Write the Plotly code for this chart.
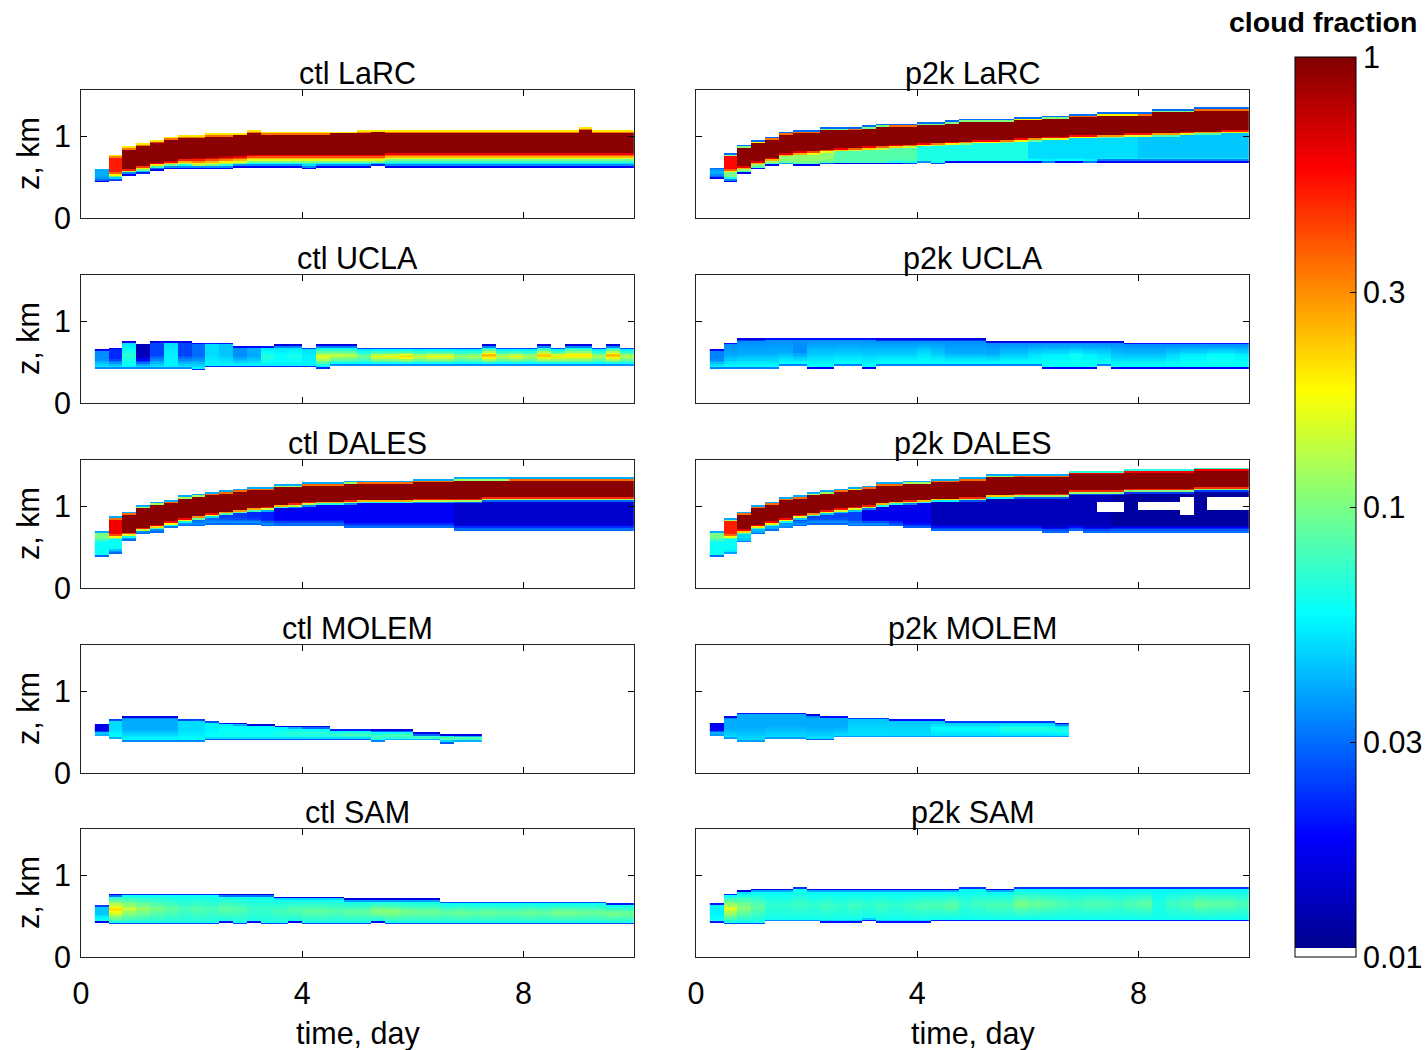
import numpy as np
import plotly.graph_objects as go

# ---------------- data ----------------
T_START = 0.25          # first time column starts at 0.25 day
T_STEP = 0.25           # column width, day
Z_STEP = 0.02           # vertical cell size, km

# ---- ctl LaRC
CTL_LARC_TOP = [0.60, 0.77, 0.87, 0.91, 0.955, 0.99, 1.01, 1.01, 1.03, 1.03,
                1.04, 1.07, 1.05, 1.05, 1.05, 1.05, 1.05, 1.06, 1.06, 1.07,
                1.08] + [1.07] * 14 + [1.11, 1.07, 1.07, 1.07]
CTL_LARC_BASE = [0.445, 0.45, 0.52, 0.535, 0.585, 0.60, 0.60, 0.60, 0.60, 0.60,
                 0.62, 0.62, 0.62, 0.62, 0.62, 0.60, 0.62, 0.62, 0.62, 0.62,
                 0.635] + [0.62] * 18
CTL_LARC_SPLIT = [0.52, 0.56, 0.60, 0.65, 0.68, 0.70, 0.73, 0.74, 0.75, 0.76,
                  0.77, 0.79, 0.79, 0.79, 0.79, 0.79, 0.79, 0.79, 0.79, 0.79,
                  0.79] + [0.81] * 18
CTL_LARC_CORE = [0.04, 0.5] + [0.95] * 37
CTL_LARC_MID = 0.1
CTL_LARC_LOW = 0.035

# ---- p2k LaRC
P2K_LARC_TOP = [0.615, 0.79, 0.89, 0.955, 1.0, 1.06, 1.08, 1.08, 1.11, 1.11,
                1.12, 1.13, 1.15, 1.16, 1.16, 1.17, 1.17, 1.19, 1.21, 1.21,
                1.21, 1.21, 1.235, 1.235, 1.25, 1.25, 1.28, 1.28, 1.295, 1.295,
                1.295, 1.30, 1.33, 1.33, 1.33, 1.36, 1.36, 1.36, 1.36]
P2K_LARC_BASE = [0.48, 0.445, 0.54, 0.60, 0.64, 0.65, 0.64, 0.64, 0.655, 0.66,
                 0.66, 0.66, 0.66, 0.66, 0.655, 0.67, 0.655, 0.68, 0.68, 0.68,
                 0.68, 0.68, 0.68, 0.68, 0.67, 0.68, 0.68, 0.67, 0.69, 0.69,
                 0.69, 0.69, 0.69, 0.69, 0.69, 0.69, 0.69, 0.69, 0.69]
P2K_LARC_SPLIT = [0.55, 0.60, 0.64, 0.70, 0.74, 0.80, 0.82, 0.83, 0.85, 0.86,
                  0.87, 0.88, 0.89, 0.90, 0.91, 0.92, 0.93, 0.94, 0.95, 0.96,
                  0.96, 0.97, 0.98, 0.99, 1.00, 1.00, 1.02, 1.02, 1.03, 1.03,
                  1.04, 1.04, 1.05, 1.05, 1.06, 1.07, 1.07, 1.08, 1.08]
P2K_LARC_CORE = [0.04, 0.55] + [0.95] * 37
P2K_LARC_MID = [0.04, 0.1] + [0.11] * 7 + [0.085] * 6 + [0.065] * 8 + [0.05] * 8 + [0.045] * 8
P2K_LARC_LOW = [0.03, 0.04] + [0.08] * 11 + [0.065] * 10 + [0.058] * 16

# ---- ctl UCLA
CTL_UCLA_TOP = [0.664, 0.684, 0.761, 0.713, 0.761, 0.761, 0.761, 0.745, 0.745, 0.745,
                0.704, 0.704, 0.704, 0.713, 0.713, 0.688, 0.713, 0.713, 0.713, 0.688,
                0.688, 0.688, 0.688, 0.688, 0.688, 0.688, 0.688, 0.688, 0.713, 0.688,
                0.688, 0.688, 0.713, 0.688, 0.713, 0.713, 0.688, 0.713, 0.688]
CTL_UCLA_BASE = [0.41] * 7 + [0.40] + [0.44] * 8 + [0.42] + [0.45] * 22
CTL_UCLA_CORE = [0.035, 0.022, 0.07, 0.013, 0.025, 0.055, 0.025, 0.03, 0.05, 0.045,
                 0.035, 0.04, 0.07, 0.06, 0.065, 0.055, 0.17, 0.15, 0.14, 0.10,
                 0.17, 0.18, 0.22, 0.15, 0.18, 0.18, 0.12, 0.13, 0.28, 0.14,
                 0.17, 0.13, 0.26, 0.20, 0.22, 0.22, 0.13, 0.28, 0.14]
CTL_UCLA_LOW = 0.055

# ---- p2k UCLA
P2K_UCLA_TOP = [0.664, 0.745, 0.79, 0.79] + [0.805] * 8 + [0.79] * 8 + [0.76] * 10 + [0.745] * 9
P2K_UCLA_BASE = ([0.41] * 5 + [0.45, 0.45, 0.42, 0.42, 0.45, 0.45, 0.42] + [0.45] * 12
                 + [0.42] * 4 + [0.45] + [0.42] * 10)
P2K_UCLA_CORE = [0.033, 0.04, 0.04, 0.04, 0.04, 0.04, 0.035, 0.045, 0.045, 0.045,
                 0.045, 0.045, 0.045, 0.045, 0.045, 0.05, 0.045, 0.04, 0.04, 0.04,
                 0.04, 0.045, 0.045, 0.05, 0.055, 0.055, 0.06, 0.055, 0.05, 0.045,
                 0.045, 0.045, 0.045, 0.05, 0.055, 0.055, 0.06, 0.06, 0.055]
P2K_UCLA_LOW = 0.06

# ---- ctl DALES
CTL_DALES_TOP = [0.70, 0.88, 0.94, 1.01, 1.05, 1.08, 1.13, 1.15, 1.18, 1.20,
                 1.22, 1.24, 1.24, 1.27, 1.27, 1.30, 1.30, 1.30, 1.31, 1.32,
                 1.32, 1.32, 1.32, 1.34, 1.34, 1.34, 1.35, 1.35, 1.35, 1.35] + [1.36] * 9
CTL_DALES_BASE = [0.38, 0.41, 0.58, 0.66, 0.68, 0.73, 0.76, 0.76, 0.78, 0.78,
                  0.78, 0.78, 0.76, 0.76, 0.76, 0.76, 0.76, 0.76, 0.73, 0.73,
                  0.73, 0.73, 0.73, 0.73, 0.73, 0.73] + [0.70] * 13
CTL_DALES_SPLIT = [0.62, 0.66, 0.69, 0.74, 0.78, 0.82, 0.86, 0.89, 0.92, 0.95,
                   0.97, 0.99, 1.00, 1.03, 1.04, 1.06, 1.07, 1.07, 1.08, 1.09,
                   1.09, 1.09, 1.09, 1.10, 1.10, 1.10, 1.10, 1.10] + [1.12] * 11
CTL_DALES_CORE = [0.1, 0.6] + [0.95] * 37
CTL_DALES_MID = [0.06, 0.06, 0.06, 0.06, 0.05, 0.045, 0.035, 0.03, 0.028, 0.025,
                 0.024, 0.022, 0.021] + [0.018] * 13 + [0.0145] * 13
CTL_DALES_LOW = [0.06, 0.03] + [0.035] * 11 + [0.03] * 26

# ---- p2k DALES
P2K_DALES_TOP = [0.70, 0.85, 0.94, 1.02, 1.06, 1.12, 1.14, 1.17, 1.19, 1.22,
                 1.235, 1.26, 1.30, 1.30, 1.31, 1.31, 1.34, 1.34, 1.36, 1.36,
                 1.39, 1.39, 1.40, 1.40, 1.40, 1.40, 1.445, 1.445, 1.445, 1.445,
                 1.465, 1.465, 1.465, 1.465, 1.465, 1.485, 1.485, 1.485, 1.485]
P2K_DALES_BASE = [0.38, 0.41, 0.555, 0.66, 0.70, 0.73, 0.76, 0.78, 0.78, 0.78,
                  0.76, 0.76, 0.76, 0.76, 0.73, 0.73, 0.70, 0.70, 0.70, 0.70,
                  0.70, 0.70, 0.70, 0.70, 0.68, 0.68, 0.70, 0.68, 0.68, 0.69] + [0.69] * 9
P2K_DALES_SPLIT = [0.62, 0.66, 0.72, 0.78, 0.82, 0.86, 0.90, 0.93, 0.96, 0.98,
                   1.00, 1.02, 1.05, 1.07, 1.08, 1.09, 1.11, 1.11, 1.12, 1.12,
                   1.15, 1.15, 1.16, 1.16, 1.16, 1.16, 1.20, 1.20, 1.20, 1.20,
                   1.22, 1.22, 1.22, 1.22, 1.22, 1.24, 1.24, 1.24, 1.24]
P2K_DALES_CORE = [0.1, 0.5] + [0.95] * 37
P2K_DALES_MID = [0.06, 0.06, 0.05, 0.045, 0.04, 0.035] + [0.025] * 5 + [0.017] * 5 + [0.013] * 13 + [0.0115] * 10
P2K_DALES_LOW = [0.06, 0.05, 0.045, 0.04, 0.04, 0.04] + [0.035] * 7 + [0.026] * 26
# cells below 0.01 (white): (first column, last column, z low, z high)
P2K_DALES_HOLES = [(28, 29, 0.93, 1.05), (31, 33, 0.96, 1.05), (34, 34, 0.90, 1.12), (36, 38, 0.96, 1.12)]

# ---- ctl MOLEM (ends at 7.25 day)
CTL_MOLEM_TOP = [0.60, 0.668, 0.696, 0.696, 0.696, 0.696, 0.668, 0.668, 0.648, 0.623,
                 0.615, 0.60, 0.60, 0.58, 0.575, 0.57, 0.57, 0.545, 0.545, 0.545,
                 0.53, 0.53, 0.53, 0.49, 0.49, 0.48, 0.475, 0.475]
CTL_MOLEM_BASE = [0.45, 0.41] + [0.375] * 6 + [0.405] * 12 + [0.375] + [0.39] * 4 + [0.365, 0.37, 0.37]
CTL_MOLEM_CORE = [0.016, 0.05, 0.04, 0.04, 0.04, 0.04, 0.05, 0.05, 0.055, 0.06,
                  0.06, 0.06, 0.06, 0.065, 0.07, 0.07, 0.07, 0.075, 0.08, 0.08,
                  0.08, 0.085, 0.09, 0.095, 0.095, 0.1, 0.1, 0.1]
CTL_MOLEM_LOW = 0.06

# ---- p2k MOLEM (ends at 6.75 day)
P2K_MOLEM_TOP = [0.615, 0.696] + [0.745] * 5 + [0.717, 0.704, 0.704] + [0.688] * 3 + [0.664] * 4 + [0.648] * 8 + [0.615]
P2K_MOLEM_BASE = [0.45, 0.41, 0.37, 0.37, 0.41, 0.41, 0.41, 0.40, 0.40] + [0.43] * 17
P2K_MOLEM_CORE = [0.018] + [0.04] * 9 + [0.048] * 6 + [0.058] * 5 + [0.068] * 5
P2K_MOLEM_LOW = 0.05

# ---- ctl SAM
CTL_SAM_TOP = [0.648, 0.77] + [0.785] * 7 + [0.77] * 4 + [0.737] * 5 + [0.713] * 7 + [0.688] * 12 + [0.664, 0.664]
CTL_SAM_BASE = ([0.42] + [0.395] * 8 + [0.42, 0.395, 0.42, 0.395, 0.395, 0.42] + [0.395] * 5
                + [0.42] + [0.395] * 18)
CTL_SAM_CORE = [0.045, 0.22, 0.14, 0.115, 0.1, 0.09, 0.08, 0.085, 0.08, 0.09,
                0.085, 0.075, 0.075, 0.08, 0.085, 0.09, 0.09, 0.085, 0.09, 0.09,
                0.11, 0.11, 0.1, 0.095, 0.095, 0.09, 0.095, 0.09, 0.095, 0.09,
                0.09, 0.095, 0.09, 0.1, 0.1, 0.095, 0.095, 0.1, 0.095]
CTL_SAM_LOW = 0.065

# ---- p2k SAM
P2K_SAM_TOP = [0.664, 0.785, 0.818, 0.834, 0.834, 0.834, 0.866] + [0.834] * 11 + [0.866, 0.866, 0.834, 0.834] + [0.866] * 17
P2K_SAM_BASE = [0.42, 0.395, 0.395, 0.395, 0.43, 0.43, 0.43, 0.43, 0.425, 0.425,
                0.425, 0.445, 0.425, 0.425, 0.425, 0.425] + [0.44] * 23
P2K_SAM_CORE = [0.055, 0.16, 0.11, 0.09, 0.072, 0.072, 0.077, 0.072, 0.077, 0.072,
                0.077, 0.072, 0.077, 0.072, 0.077, 0.082, 0.082, 0.088, 0.072, 0.077,
                0.082, 0.082, 0.1, 0.093, 0.088, 0.082, 0.077, 0.082, 0.082, 0.077,
                0.082, 0.088, 0.066, 0.077, 0.082, 0.093, 0.088, 0.088, 0.082]
P2K_SAM_LOW = 0.062

CB_TICK_VALUES = [0.01, 0.03, 0.1, 0.3, 1]
CB_TICK_TEXT = ["0.01", "0.03", "0.1", "0.3", "1"]
X_TICKS = [0, 4, 8]
Y_TICKS = [0, 1]

# ---------------- building the cells ----------------
ZC = np.arange(Z_STEP / 2, 1.6, Z_STEP)


def build(top, base, core, low, sub_top, edge_top, edge_bot,
          split=None, mid=None, trans=0.0, taper=0.0, low_h=None, holes=()):
    top = np.asarray(top, float)
    n = len(top)
    bc = lambda v: np.broadcast_to(np.asarray(v, float), (n,))
    base, core, low = bc(base), bc(core), bc(low)
    grid = np.full((len(ZC), n), np.nan)
    for j in range(n):
        T, B, C = top[j], base[j], core[j]
        st = min(sub_top, C)
        et = min(edge_top, C)
        nodes = [(B + Z_STEP / 2, edge_bot), (B + 1.5 * Z_STEP, low[j])]
        if split is None:
            nodes.append((0.5 * (T + B), C))
        else:
            S = split[j]
            m = bc(mid)[j]
            if low_h is not None and B + low_h < S - trans:
                nodes.append((B + low_h, m))
            if S - trans > B + 1.5 * Z_STEP:
                nodes.append((S - trans, m))
            nodes.append((S, C))
            if T - taper > S:
                nodes.append((T - taper, C))
        nodes += [(T - 1.5 * Z_STEP, st), (T - Z_STEP / 2, et)]
        zs = np.maximum.accumulate([p[0] for p in nodes])
        vs = np.log10([p[1] for p in nodes])
        mask = (ZC >= B) & (ZC <= T)
        grid[mask, j] = np.interp(ZC[mask], zs, vs)
    for (k0, k1, z0, z1) in holes:
        rows = (ZC >= z0) & (ZC <= z1)
        grid[np.ix_(rows, np.arange(k0, k1 + 1))] = np.nan
    return grid


PANELS = [
    ("ctl LaRC", build(CTL_LARC_TOP, CTL_LARC_BASE, CTL_LARC_CORE, CTL_LARC_LOW, 0.6, 0.2, 0.018,
                       split=CTL_LARC_SPLIT, mid=CTL_LARC_MID, trans=0.10, taper=0.03)),
    ("p2k LaRC", build(P2K_LARC_TOP, P2K_LARC_BASE, P2K_LARC_CORE, P2K_LARC_LOW, 0.35, 0.03, 0.018,
                       split=P2K_LARC_SPLIT, mid=P2K_LARC_MID, trans=0.05, taper=0.04, low_h=0.06)),
    ("ctl UCLA", build(CTL_UCLA_TOP, CTL_UCLA_BASE, CTL_UCLA_CORE, CTL_UCLA_LOW, 0.05, 0.016, 0.022)),
    ("p2k UCLA", build(P2K_UCLA_TOP, P2K_UCLA_BASE, P2K_UCLA_CORE, P2K_UCLA_LOW, 0.035, 0.016, 0.018)),
    ("ctl DALES", build(CTL_DALES_TOP, CTL_DALES_BASE, CTL_DALES_CORE, CTL_DALES_LOW, 0.35, 0.04, 0.03,
                        split=CTL_DALES_SPLIT, mid=CTL_DALES_MID, trans=0.06, taper=0.04, low_h=0.08)),
    ("p2k DALES", build(P2K_DALES_TOP, P2K_DALES_BASE, P2K_DALES_CORE, P2K_DALES_LOW, 0.35, 0.04, 0.03,
                        split=P2K_DALES_SPLIT, mid=P2K_DALES_MID, trans=0.06, taper=0.04, low_h=0.08,
                        holes=P2K_DALES_HOLES)),
    ("ctl MOLEM", build(CTL_MOLEM_TOP, CTL_MOLEM_BASE, CTL_MOLEM_CORE, CTL_MOLEM_LOW, 0.055, 0.016, 0.028)),
    ("p2k MOLEM", build(P2K_MOLEM_TOP, P2K_MOLEM_BASE, P2K_MOLEM_CORE, P2K_MOLEM_LOW, 0.045, 0.016, 0.028)),
    ("ctl SAM", build(CTL_SAM_TOP, CTL_SAM_BASE, CTL_SAM_CORE, CTL_SAM_LOW, 0.06, 0.016, 0.018)),
    ("p2k SAM", build(P2K_SAM_TOP, P2K_SAM_BASE, P2K_SAM_CORE, P2K_SAM_LOW, 0.058, 0.016, 0.02)),
]

# ---------------- figure ----------------
W, H = 1425, 1050
FONT = "Liberation Sans, Arial, Helvetica, sans-serif"
FS = 30.5

COL_X = [(81, 634), (696, 1249)]
ROW_Y = [(90, 218), (275, 403), (460, 588), (645, 773), (829, 957)]

jet = [(0.0, (0, 0, 143)), (0.125, (0, 0, 255)), (0.375, (0, 255, 255)),
       (0.625, (255, 255, 0)), (0.875, (255, 0, 0)), (1.0, (128, 0, 0))]
colorscale = [[0.0, "rgb(255,255,255)"], [0.0099, "rgb(255,255,255)"]]
for p, c in jet:
    colorscale.append([0.01 + 0.99 * p, "rgb(%d,%d,%d)" % c])

fig = go.Figure()
layout = dict(
    width=W, height=H, margin=dict(l=0, r=0, t=0, b=0, autoexpand=False),
    paper_bgcolor="white", plot_bgcolor="white",
    font=dict(family=FONT, size=FS, color="black"),
    showlegend=False,
    coloraxis=dict(
        colorscale=colorscale, cmin=-2, cmax=0,
        colorbar=dict(
            x=1295 / W, xanchor="left", xpad=0,
            y=1 - 57 / H, yanchor="top", ypad=0,
            len=900 / H, lenmode="fraction",
            thickness=61, thicknessmode="pixels",
            outlinewidth=1, outlinecolor="black",
            tickvals=list(np.log10(CB_TICK_VALUES)), ticktext=CB_TICK_TEXT,
            ticks="inside", ticklen=6, tickcolor="black",
            tickfont=dict(family=FONT, size=FS, color="black"),
        ),
    ),
    annotations=[],
)

for i, (title, grid) in enumerate(PANELS):
    r, c = divmod(i, 2)
    n = i + 1
    xs = "x" if n == 1 else "x%d" % n
    ys = "y" if n == 1 else "y%d" % n
    ncol = grid.shape[1]
    xc = T_START + T_STEP * (np.arange(ncol) + 0.5)
    fig.add_trace(go.Heatmap(x=xc, y=ZC, z=grid, coloraxis="coloraxis",
                             xaxis=xs, yaxis=ys, hoverinfo="skip"))
    x0, x1 = COL_X[c]
    y0, y1 = ROW_Y[r]
    layout["xaxis" if n == 1 else "xaxis%d" % n] = dict(
        domain=[x0 / W, x1 / W], anchor=ys, range=[0, 10],
        tickvals=X_TICKS, ticks="inside", ticklen=6, tickcolor="black",
        showline=True, linecolor="#222222", linewidth=1, mirror="ticks",
        showgrid=False, zeroline=False, showticklabels=(r == 4),
        ticklabelstandoff=9, tickfont=dict(size=FS),
    )
    layout["yaxis" if n == 1 else "yaxis%d" % n] = dict(
        domain=[1 - y1 / H, 1 - y0 / H], anchor=xs, range=[0, 1.575],
        tickvals=Y_TICKS, ticks="inside", ticklen=6, tickcolor="black",
        showline=True, linecolor="#222222", linewidth=1, mirror="ticks",
        showgrid=False, zeroline=False, showticklabels=(c == 0),
        ticklabelstandoff=3, tickfont=dict(size=FS),
    )
    layout["annotations"].append(dict(
        text=title, x=(x0 + x1) / 2 / W, y=1 - (y0 - 17) / H,
        xref="paper", yref="paper", xanchor="center", yanchor="middle",
        showarrow=False, font=dict(size=FS)))
    if c == 0:
        layout["annotations"].append(dict(
            text="z, km", x=28 / W, y=1 - (y0 + y1) / 2 / H, textangle=-90,
            xref="paper", yref="paper", xanchor="center", yanchor="middle",
            showarrow=False, font=dict(size=FS)))

for (x0, x1) in COL_X:
    layout["annotations"].append(dict(
        text="time, day", x=(x0 + x1) / 2 / W, y=1 - 1033 / H,
        xref="paper", yref="paper", xanchor="center", yanchor="middle",
        showarrow=False, font=dict(size=FS)))

layout["annotations"].append(dict(
    text="<b>cloud fraction</b>", x=1323 / W, y=1 - 22 / H,
    xref="paper", yref="paper", xanchor="center", yanchor="middle",
    showarrow=False, font=dict(size=28.5)))

fig.update_layout(**layout)
fig.write_html("out.html")
